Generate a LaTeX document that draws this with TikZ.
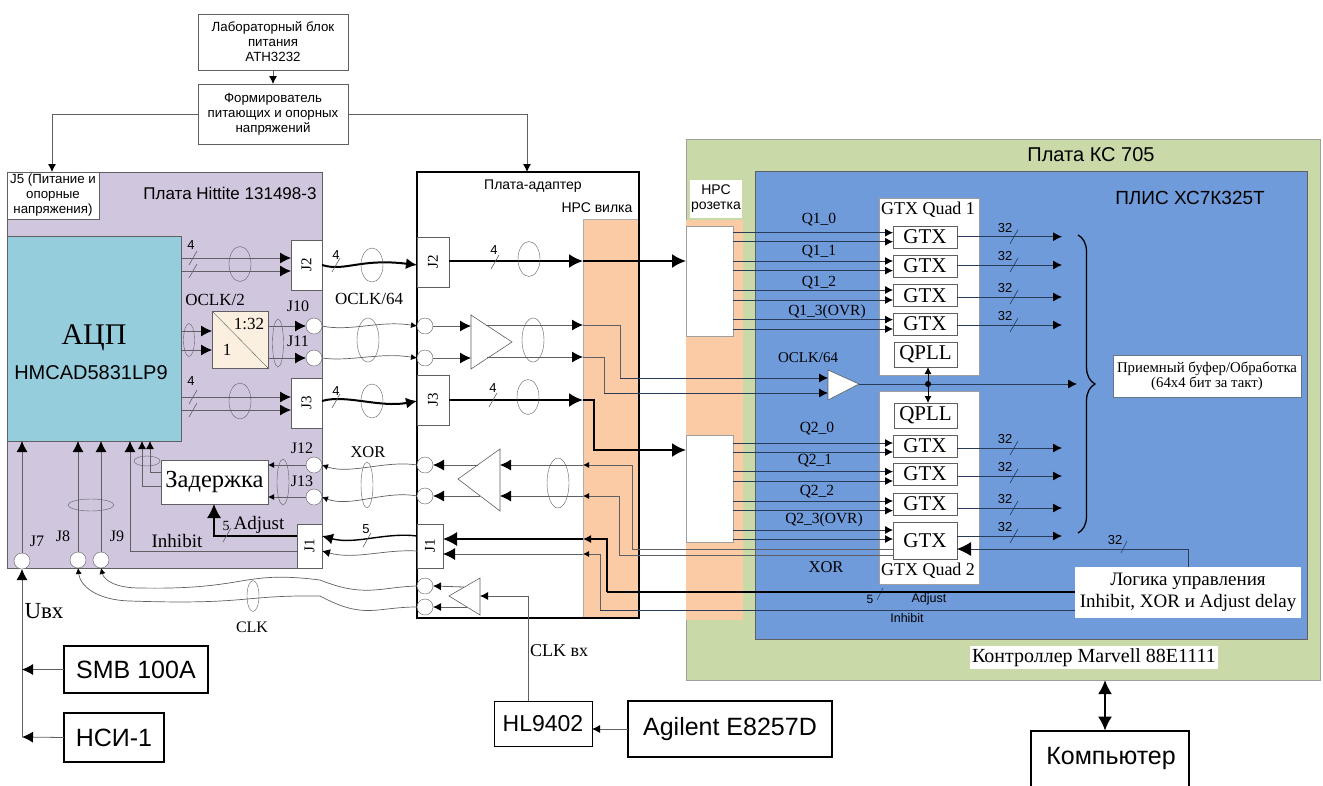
\documentclass[tikz,border=0pt]{standalone}
\usepackage{fontspec}
\setmainfont{Liberation Sans}
\newfontfamily\serifru{Liberation Serif}
\usetikzlibrary{positioning}
\usetikzlibrary{calc}
\usetikzlibrary{arrows.meta}
\usetikzlibrary{decorations.pathreplacing}
\usetikzlibrary{shapes.geometric}
\definecolor{hittite}{RGB}{208,198,222}
\definecolor{adcblue}{RGB}{150,205,221}
\definecolor{convfill}{RGB}{251,239,224}
\definecolor{hpc}{RGB}{250,203,165}
\definecolor{kcgreen}{RGB}{201,218,168}
\definecolor{fpga}{RGB}{111,155,219}
\definecolor{wire}{RGB}{95,95,100}
\definecolor{wirefp}{RGB}{40,60,90}
\tikzset{
    tipxs/.tip={Latex[length=6pt,width=6pt,black]},
    tipsm/.tip={Latex[length=8pt,width=8pt,black]},
    tipmd/.tip={Latex[length=11pt,width=11pt,black]},
    tiplg/.tip={Latex[length=14pt,width=14pt,black]},
    sans/.style={font=\fontsize{#1}{15}\selectfont, inner sep=0pt},
    ser/.style={font=\fontsize{#1}{15}\selectfont\serifru, inner sep=0pt},
    box/.style={draw=wire, fill=white, inner sep=0pt, outer sep=0pt, align=center},
    heavy/.style={draw=black, line width=2pt, fill=white, inner sep=0pt, outer sep=0pt},
    pin/.style={draw=wire, fill=white, circle, minimum size=16pt, inner sep=0pt, outer sep=0pt},
    bundle/.style={draw=wire, ellipse, inner sep=0pt, outer sep=0pt},
    amp/.style={draw=wire, fill=white, line width=0.6pt},
    wirexs/.style={draw=wire, line width=0.8pt, -tipxs},
    wires/.style={draw=wire, line width=0.8pt, -tipsm},
    wirem/.style={draw=wire, line width=0.8pt, -tipmd},
    wirefs/.style={draw=wirefp, line width=0.8pt, -tipsm},
    wirefm/.style={draw=wirefp, line width=0.8pt, -{Latex[length=9pt,width=9pt,black]}},
    bus/.style={draw=black, line width=2pt, -tiplg},
    slash/.style={draw=wire, line width=0.6pt},
}
\begin{document}
\begin{tikzpicture}[x=1pt, y=-1pt, >=latex]
    \useasboundingbox (0,0) rectangle (1323,785);
    \clip (0,0) rectangle (1323,785);

    % Boards
    \node[fill=kcgreen, draw=wire!60, inner sep=0pt, minimum width=634pt, minimum height=541pt] (kc) at (1003,409.5) {};
    \node[fill=fpga, draw=wire, inner sep=0pt, minimum width=552pt, minimum height=468pt] (xc) at (1031,405) {};
    \node[fill=hittite, draw=wire, inner sep=0pt, outer sep=0pt, minimum width=315pt, minimum height=396pt] (hit) at (164.5,370) {};
    \node[fill=white, inner sep=0pt, outer sep=0pt, minimum width=222pt, minimum height=446pt] (adapter) at (528,395) {};
    \node[fill=hpc, draw=wire!50, inner sep=0pt, outer sep=0pt, minimum width=56pt, minimum height=399pt] (plug) at (611,418.5) {};
    \node[fill=hpc, inner sep=0pt, outer sep=0pt, minimum width=57pt, minimum height=400pt] (socket) at (714.5,420) {};
    \draw[draw=black, line width=2.5pt] (adapter.north west) rectangle (adapter.south east);

    % Supply
    \node[box, sans=13.3, minimum width=150pt, minimum height=56pt] (lab) at (273,42) {Лабораторный блок\\питания\\АТН3232};
    \node[box, sans=13.3, minimum width=150pt, minimum height=60pt] (shaper) at (273,114) {Формирователь\\питающих и опорных\\напряжений};
    \draw[wires] (lab) -- (shaper);
    \coordinate (j5in) at (52,172);
    \coordinate (adin) at (527,172);
    \draw[wires] (shaper.west) -| (j5in);
    \draw[wires] (shaper.east) -| (adin);

    % Hittite board contents
    \node[box, sans=13.3, minimum width=92pt, minimum height=47pt] (j5) at (53,195.5) {J5 (Питание и\\опорные\\напряжения)};
    \node[sans=17] (hittitle) at (230,193) {Плата Hittite 131498-3};
    \node[box, fill=adcblue, minimum width=174pt, minimum height=205pt] (adc) at (94,338.5) {};
    \node[ser=30] (adctitle) at (94,338) {АЦП};
    \node[sans=20] (adcname) at (91,373) {HMCAD5831LP9};
    \node[box, ser=15, rotate=90, minimum width=50pt, minimum height=31pt] (j2o) at (306.5,265) {J2};
    \node[box, ser=15, rotate=90, minimum width=50pt, minimum height=31pt] (j3o) at (306.5,403) {J3};
    \node[box, ser=15, rotate=90, minimum width=44pt, minimum height=25pt] (j1o) at (309.5,546) {J1};
    \node[box, fill=convfill, minimum width=56pt, minimum height=57pt] (conv) at (240,339.5) {};
    \draw[wire] (conv.north west) -- (conv.south east);
    \node[ser=17] (convhi) at (249,324) {1:32};
    \node[ser=17] (convlo) at (227,350) {1};
    \node[box, ser=24.5, minimum width=107pt, minimum height=44pt] (delay) at (214.5,482) {Задержка};
    \node[pin] (j10) at (314,326) {};
    \node[pin] (j11) at (314,358) {};
    \node[pin] (j12) at (314,465) {};
    \node[pin] (j13) at (314,497) {};
    \node[pin] (j7) at (22,561) {};
    \node[pin] (j8) at (78,560) {};
    \node[pin] (j9) at (101,560) {};

    \foreach \name/\x/\y/\txt in {tj10/298/306/J10, tj11/298/341/J11, tj12/302/448/J12, tj13/302/481/J13,
        tj7/37/541/J7, tj8/63/536/J8, tj9/117/536/J9} {
        \node[ser=16] (\name) at (\x,\y) {\txt};
    }
    \node[ser=17] (oclktwo) at (215,300) {OCLK/2};
    \node[ser=19] (tinhibit) at (177,541) {Inhibit};
    \node[ser=19] (tadjust) at (259,525) {Adjust};
    \node[ser=14] (tfive) at (226,526) {5};

    % ADC outputs
    \draw[wirem] (adc.east |- 0,258) -- (j2o.north |- 0,258);
    \draw[wirem] (adc.east |- 0,271) -- (j2o.north |- 0,271);
    \draw[wirem] (adc.east |- 0,397) -- (j3o.north |- 0,397);
    \draw[wirem] (adc.east |- 0,410) -- (j3o.north |- 0,410);
    \draw[wirem] (adc.east |- 0,331) -- (conv.west |- 0,331);
    \draw[wirem] (adc.east |- 0,350) -- (conv.west |- 0,350);
    \draw[wirem] (conv.east |- j10) -- (j10.west);
    \draw[wirem] (conv.east |- j11) -- (j11.west);

    % ADC inputs
    \draw[wirem] (j7.north) -- (j7.north |- adc.south);
    \draw[wirem] (j8.north) -- (j8.north |- adc.south);
    \draw[wirem] (j9.north) -- (j9.north |- adc.south);
    \draw[wirem] (j1o.north |- 0,551.5) -| (adc.south -| 130,0);
    \draw[wires] (delay.west |- 0,486) -| (adc.south -| 142,0);
    \draw[wires] (delay.west |- 0,472) -| (adc.south -| 150,0);
    \draw[wirexs] (j12.west) -- (delay.east |- j12);
    \draw[wirexs] (j13.west) -- (delay.east |- j13);
    \draw[bus, line width=1.2pt] (j1o.north |- 0,536) -| (delay.south -| 214,0);

    % Adapter contents
    \node[sans=14] (adtitle) at (533,186) {Плата-адаптер};
    \node[sans=14] (plugtitle) at (597,208) {НРС вилка};
    \node[box, ser=15, rotate=90, minimum width=50pt, minimum height=32pt] (j2a) at (433,262) {J2};
    \node[box, ser=15, rotate=90, minimum width=50pt, minimum height=32pt] (j3a) at (433,400) {J3};
    \node[box, ser=15, rotate=90, minimum width=44pt, minimum height=26pt] (j1a) at (430,546) {J1};
    \node[pin] (p1) at (425,326) {};
    \node[pin] (p2) at (425,358) {};
    \node[pin] (p3) at (425,465) {};
    \node[pin] (p4) at (425,496) {};
    \node[pin] (p5) at (425,586) {};
    \node[pin] (p6) at (425,607) {};
    \draw[amp] (471,315) coordinate (ampa) -- (512,342) coordinate (ampt) -- (471,369) -- cycle;
    \draw[amp] (500,449) coordinate (ampb) -- (458,479) -- (500,511) -- cycle;
    \draw[amp] (480,578) coordinate (ampc) -- (449,596) -- (480,615) -- cycle;
    \coordinate (aouta) at (486,325);
    \coordinate (aoutb) at (487,357);
    \coordinate (bouta) at (478,465);
    \coordinate (boutb) at (480,496);
    \coordinate (couta) at (464,587);
    \coordinate (coutb) at (467,607);
    \draw[wirem] (p1.east) -- (ampa |- p1);
    \draw[wirem] (p2.east) -- (ampa |- p2);
    \draw[wirem] (aouta) -- (plug.west |- aouta);
    \draw[wirem] (aoutb) -- (plug.west |- aoutb);
    \draw[wirem] (plug.west |- p3) -- (ampb |- p3);
    \draw[wirem] (plug.west |- p4) -- (ampb |- p4);
    \draw[wirem] (bouta) -- (p3.east);
    \draw[wirem] (boutb) -- (p4.east);
    \draw[wires] (couta) -- (p5.east);
    \draw[wires] (coutb) -- (p6.east);

    % Cables between the boards
    \draw[bus, -tipmd] (j2o.south |- 0,265) .. controls (345,272) and (360,258) .. (j2a.north |- 0,265);
    \draw[bus, -tipmd] (j3o.south |- 0,401) .. controls (345,394) and (380,408) .. (j3a.north |- 0,401);
    \draw[wire, line width=0.7pt, -tipxs] (j10.east) .. controls (350,332) and (380,320) .. (p1.west);
    \draw[wire, line width=0.7pt, -tipxs] (j11.east) .. controls (350,362) and (380,352) .. (p2.west);
    \draw[wire, line width=0.7pt, -tipxs] (p3.west) .. controls (385,460) and (350,475) .. (j12.east);
    \draw[wire, line width=0.7pt, -tipxs] (p4.west) .. controls (385,490) and (350,508) .. (j13.east);
    \draw[bus, line width=1.4pt, -tipmd] (j1a.north |- 0,536) .. controls (385,532) and (355,545) .. (j1o.south |- 0,536);
    \draw[wire, line width=0.7pt, -tipsm] (j1a.north |- 0,551) .. controls (385,549) and (355,560) .. (j1o.south |- 0,551);
    \draw[wire, line width=0.7pt, -tipxs] (p5.west) .. controls (380,587) and (365,598) .. (320,580) .. controls (240,570) and (250,590) .. (140,588) .. controls (115,588) and (104,580) .. (j9.south);
    \draw[wire, line width=0.7pt, -tipxs] (p6.west) .. controls (375,607) and (365,620) .. (320,596) .. controls (240,595) and (250,605) .. (130,601) .. controls (95,600) and (80,585) .. (j8.south);

    % Thin and heavy lines through the connectors
    \node[draw=wire!60, fill=white, inner sep=0pt, outer sep=0pt, minimum width=47pt, minimum height=110pt] (sockaw) at (709.5,281.5) {};
    \node[draw=wire!60, fill=white, inner sep=0pt, outer sep=0pt, minimum width=47pt, minimum height=107pt] (sockbw) at (709.5,488.5) {};
    \node[sans=14, fill=white, inner sep=1pt, align=center, minimum width=52pt, minimum height=38pt] (socktitle) at (716,199) {НРС\\розетка};
    \draw[bus] (j2a.south |- 0,261) -- (plug.west |- 0,261);
    \draw[bus] (plug.west |- 0,261) -- (sockaw.west |- 0,261);
    \draw[bus] (j3a.south |- 0,400) -- (plug.west |- 0,400);
    \draw[bus] (plug.west |- 0,400) -- ++(11,0) |- (sockbw.west |- 0,450);

    % Clock input
    \node[box, sans=23, draw=black, line width=0.8pt, minimum width=98pt, minimum height=45pt] (hl) at (543,723.5) {HL9402};
    \node[heavy, sans=25, minimum width=204pt, minimum height=56pt] (agilent) at (730,729) {Agilent E8257D};
    \node[ser=18] (clkin) at (559,651) {CLK вх};
    \draw[wires] (agilent.west) -- (hl.east |- agilent);
    \draw[wires] (hl.north -| 528,0) |- (ampc |- 0,596);
    \node[ser=16] (tclk) at (252,627) {CLK};
    \node[ser=17] (toclk) at (369,299) {OCLK/64};
    \node[ser=16.5] (txor) at (368,452) {XOR};

    % Input sources
    \node[heavy, sans=25, minimum width=144pt, minimum height=47pt] (smb) at (136,669.5) {SMB 100A};
    \node[heavy, sans=25, minimum width=100pt, minimum height=49pt] (nsi) at (114,737.5) {НСИ-1};
    \coordinate (ujoin) at (22,737);
    \draw[wirem] (ujoin) -- (j7.south);
    \draw[wirem] (smb.west) -- (j7.south |- smb);
    \draw[wirem] (nsi.west) -- (ujoin);
    \node[ser=23] (tuin) at (44,611) {Uвх};

    % Bundle marks
    \foreach \name/\x/\y/\w/\h in {e1/240/264/22/35, e2/189/340/11/33, e3/278/343/11/48, e4/240/401/22/36,
        e5/147/461/26/10, e6/91/505/46/12, e7/283/482/12/46, e8/253/596/12/31,
        e9/372/265/22/34, e10/368/340/22/44, e11/372/401/22/34, e12/367/485/12/46,
        e13/529/259/22/35, e14/533/340/22/44, e15/528/397/22/35, e16/558/483/22/50} {
        \node[bundle, minimum width=\w pt, minimum height=\h pt] (\name) at (\x,\y) {};
    }

    % Bus widths
    \foreach \x/\y in {193/258, 193/271, 193/397, 193/410, 227/535, 336/265, 336/401, 367/540, 495/262, 493/400} {
        \draw[slash] (\x,\y) +(-4,7) -- +(4,-7);
    }
    \foreach \name/\x/\y/\txt in {w1/191/245/4, w2/191/381/4, w3/336/255/4, w4/336/391/4, w5/494/250/4, w6/493/388/4, w7/366/529/5} {
        \node[sans=13] (\name) at (\x,\y) {\txt};
    }

    % Routing inside the connectors
    \coordinate (oclkup) at (620,378);
    \coordinate (oclkdn) at (604,393);
    \draw[wire, line width=0.8pt] (plug.west |- 0,325) -| (oclkup);
    \draw[wire, line width=0.8pt] (plug.west |- 0,357) -| (oclkdn);
    \coordinate (xora) at (632,549);
    \coordinate (xorb) at (619,555);
    \draw[wirexs] (xora) |- (plug.west |- p3);
    \draw[wirexs] (xorb) |- (plug.west |- p4);
    \coordinate (adja) at (607,592);
    \coordinate (inha) at (600,610);
    \draw[bus, line width=1.4pt, -tipsm] (adja) |- (plug.west |- 0,539);
    \draw[wirexs] (inha) |- (plug.west |- 0,554);
    \draw[draw=black, line width=1.4pt, -tiplg] (plug.west |- 0,539) -- (j1a.south |- 0,539);
    \draw[draw=wire, line width=0.8pt, -{Latex[length=12pt,width=12pt,black]}] (plug.west |- 0,554) -- (j1a.south |- 0,554);

    % FPGA
    \node[sans=20] (kctitle) at (1091,155) {Плата КС 705};
    \node[sans=19] (xctitle) at (1190,198) {ПЛИС ХС7К325Т};
    \node[box, draw=wire!60, minimum width=100pt, minimum height=177pt] (quada) at (929,286.5) {};
    \node[box, draw=wire!60, minimum width=100pt, minimum height=193pt] (quadb) at (929,487.5) {};
    \node[ser=18] (quadat) at (928,210) {GTX Quad 1};
    \node[ser=18] (quadbt) at (928,571) {GTX Quad 2};
    \node[box, ser=21, minimum width=63pt, minimum height=25pt] (qplla) at (925.5,354.5) {QPLL};
    \node[box, ser=21, minimum width=63pt, minimum height=25pt] (qpllb) at (925.5,415.5) {QPLL};

    \foreach \q/\i/\yc/\h/\ya/\yb/\yo/\txt/\lx/\ly in {
        a/0/237/22/232.7/241.7/236.7/{Q1\_0}/819/220,
        a/1/266/22/261/270.6/265/{Q1\_1}/819/252,
        a/2/295.5/22/290/300/297/{Q1\_2}/819/283,
        a/3/324/22/319.6/329/325/{Q1\_3(OVR)}/827/312,
        b/0/446/22/443/452/448/{Q2\_0}/817/429,
        b/1/474/22/471.6/481/476/{Q2\_1}/815/461,
        b/2/504/22/501/510.6/508/{Q2\_2}/817/492,
        b/3/540.5/37/530/539/536/{Q2\_3(OVR)}/824/520} {
        \node[box, ser=21, minimum width=64pt, minimum height=\h pt] (gtx\q\i) at (925,\yc) {GTX};
        \draw[wirefs] (sock\q w.east |- 0,\ya) -- (gtx\q\i.west |- 0,\ya);
        \draw[wirefs] (sock\q w.east |- 0,\yb) -- (gtx\q\i.west |- 0,\yb);
        \coordinate (out\q\i) at (1062,\yo);
        \draw[wirefm] (gtx\q\i.east |- out\q\i) -- (out\q\i);
        \draw[slash, draw=wirefp] (1014,\yo) +(-4,7) -- +(4,-7);
        \node[ser=15.5] (lab\q\i) at (\lx,\ly) {\txt};
        \node[sans=13] (wd\q\i) at (1005,\yo-9) {32};
    }

    % Clock buffer
    \draw[amp, fill=white] (828,370) coordinate (ampd) -- (859,384) coordinate (ampdt) -- (828,400) -- cycle;
    \node[ser=15] (oclkfp) at (808,358) {OCLK/64};
    \draw[wirefm] (oclkup) -- (ampd |- oclkup);
    \draw[wirefm] (oclkdn) -- (ampd |- oclkdn);
    \coordinate (ampout) at (1077,384);
    \draw[wirefm] (ampdt) -- (ampout);
    \coordinate (qdot) at (928,384);
    \fill[black] (qdot) circle (3pt);
    \draw[draw=black, line width=0.8pt, {Latex[length=7pt,width=7pt]}-{Latex[length=7pt,width=7pt]}] (qplla.south -| qdot) -- (qpllb.north -| qdot);

    % Output collection
    \coordinate (brtop) at (1078,235);
    \coordinate (brbot) at (1078,533);
    \draw[draw=black, line width=1.3pt, decorate, decoration={brace, amplitude=17pt, raise=0pt}] (brtop) -- (brbot);
    \node[box, ser=14.8, draw=wirefp!70, minimum width=188pt, minimum height=42pt] (rxbuf) at (1207,376) {Приемный буфер/Обработка\\(64х4 бит за такт)};

    % Control logic
    \node[box, ser=19, draw=none, minimum width=226pt, minimum height=51pt] (logic) at (1188,592.5) {Логика управления\\[4pt]Inhibit, XOR и Adjust delay};
    \node[ser=16.5] (xorfp) at (826,567) {XOR};
    \node[sans=12] (wfive) at (870,599) {5};
    \node[sans=12.5] (tadjfp) at (929,599) {Adjust};
    \node[sans=12.5] (tinhfp) at (907,618) {Inhibit};
    \node[sans=13] (wctrl) at (1115,540) {32};
    \draw[slash, draw=wirefp] (880,594) +(-3,6) -- +(3,-6);
    \draw[slash, draw=wirefp] (1124,547) +(-3,6) -- +(3,-6);
    \draw[draw=wirefp, line width=0.8pt, -tiplg] (logic.north) |- (gtxb3.east |- 0,549);
    \draw[draw=black, line width=1.4pt] (logic.west |- 0,592) -- (adja);
    \draw[draw=wirefp, line width=0.8pt] (logic.west |- 0,610) -- (inha);
    \draw[draw=wire, line width=0.8pt] (gtxb3.west |- xora) -- (xora);
    \draw[draw=wire, line width=0.8pt] (gtxb3.west |- xorb) -- (xorb);

    % Controller
    \node[ser=20, fill=white, minimum width=248pt, minimum height=23pt] (marvell) at (1094,657.5) {Контроллер Marvell 88E1111};
    \node[heavy, minimum width=158pt, minimum height=70pt] (pc) at (1110,765.5) {};
    \node[sans=25] (pctext) at (1111,758) {Компьютер};
    \draw[draw=black, line width=1.2pt, tiplg-tiplg] (kc.south -| 1105,0) -- (pc.north -| 1105,0);
\end{tikzpicture}
\end{document}
